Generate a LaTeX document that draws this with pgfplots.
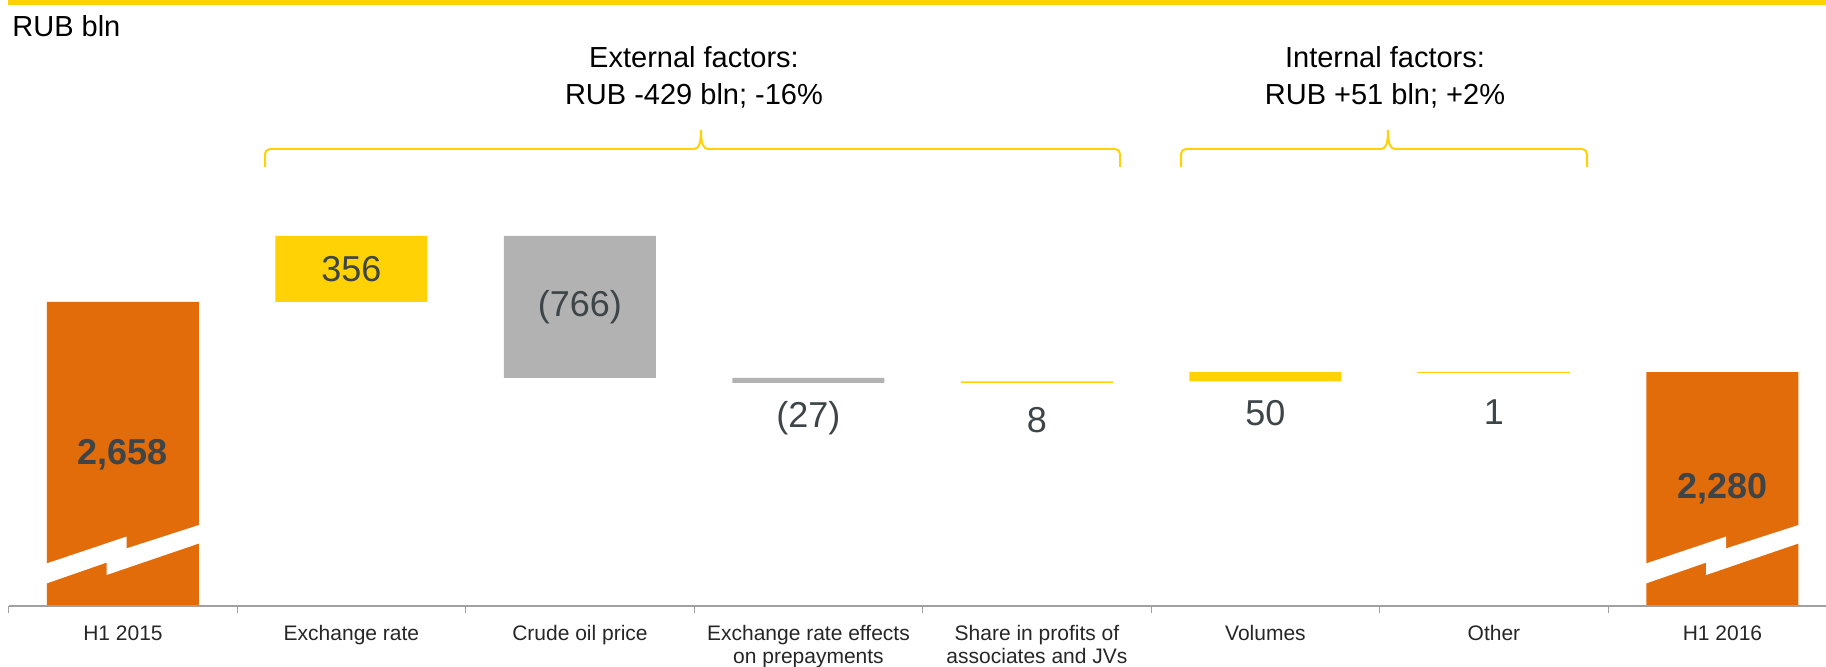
\documentclass[border=0pt]{standalone}
\usepackage{fontspec}
\setmainfont{Liberation Sans}
\usepackage{pgfplots}
\usepackage{pgfplotstable}
\pgfplotsset{compat=1.18}
\definecolor{orng}{RGB}{227,108,10}
\definecolor{ylw}{RGB}{254,210,5}
\definecolor{gry}{RGB}{178,178,178}
\definecolor{axgry}{RGB}{160,160,160}
\definecolor{txt}{RGB}{61,69,73}

\pgfplotstableread{
x base inc dec tot
0 0 0 0 2658
1 2658 356 0 0
2 2248 0 766 0
3 2221 0 27 0
4 2221 8 0 0
5 2229 50 0 0
6 2279 1 0 0
7 0 0 0 2280
}\wf

\newcommand{\bolt}[1]{%
  \fill[white] ([shift={(-39pt,11.0pt)}]axis cs:#1,1018) -- ([shift={(-8.2pt,21.7pt)}]axis cs:#1,1018)
    -- ([shift={(-8.2pt,15.5pt)}]axis cs:#1,1018) -- ([shift={(39pt,31.6pt)}]axis cs:#1,1018)
    -- ([shift={(39pt,40.8pt)}]axis cs:#1,1018) -- ([shift={(1.8pt,28.8pt)}]axis cs:#1,1018)
    -- ([shift={(1.8pt,34.7pt)}]axis cs:#1,1018) -- ([shift={(-39pt,21.0pt)}]axis cs:#1,1018) -- cycle;}

\begin{document}
\begin{tikzpicture}
\path[use as bounding box] (0,0) rectangle (913pt,333.5pt);
\fill[ylw] (4pt,331pt) rectangle (913pt,334pt);
\node[anchor=west, inner sep=0pt, font=\fontsize{14.5}{17}\selectfont] at (6pt,320.5pt) {RUB bln};

\node[align=center, font=\fontsize{14.5}{18.5}\selectfont] at (347pt,295pt) {External factors:\\RUB -429 bln; -16\%};
\node[align=center, font=\fontsize{14.5}{18.5}\selectfont] at (692.5pt,295pt) {Internal factors:\\RUB +51 bln; +2\%};

\draw[ylw, line width=1pt] (132.5pt,250pt) -- (132.5pt,256.5pt) arc[start angle=180, end angle=90, radius=2.5pt]
  -- (347pt,259pt) .. controls (349.5pt,259pt) and (350.5pt,262pt) .. (350.5pt,268.5pt)
  .. controls (350.5pt,262pt) and (351.5pt,259pt) .. (354pt,259pt)
  -- (557.5pt,259pt) arc[start angle=90, end angle=0, radius=2.5pt] -- (560pt,250pt);
\draw[ylw, line width=1pt] (590.5pt,250pt) -- (590.5pt,256.5pt) arc[start angle=180, end angle=90, radius=2.5pt]
  -- (690.5pt,259pt) .. controls (693pt,259pt) and (694pt,262pt) .. (694pt,268.5pt)
  .. controls (694pt,262pt) and (695pt,259pt) .. (697.5pt,259pt)
  -- (791pt,259pt) arc[start angle=90, end angle=0, radius=2.5pt] -- (793.5pt,250pt);

\begin{axis}[
  at={(4.35pt,30.5pt)}, anchor=south west,
  x=114.25pt, y=0.0927pt,
  xmin=-0.5, xmax=7.5, ymin=1018, ymax=4286,
  ybar stacked, bar width=76pt,
  axis x line=bottom, axis y line=none,
  x axis line style={-, draw=axgry, line width=1pt},
  xtick={0,...,7},
  xticklabels={H1 2015, Exchange rate, Crude oil price, {Exchange rate effects\\on prepayments}, {Share in profits of\\associates and JVs}, Volumes, Other, H1 2016},
  major tick length=0pt,
  minor xtick={-0.5,0.5,...,7.5}, minor tick length=3.5pt,
  xtick align=outside,
  tick style={draw=axgry, line width=0.6pt},
  xticklabel style={font=\fontsize{10.5}{11.3}\selectfont, align=center, yshift=-6.2pt, text=black!85},
  axis on top,
]
\addplot[draw=none, fill=none] table[x=x,y=base]{\wf};
\addplot[draw=none, fill=ylw] table[x=x,y=inc]{\wf};
\addplot[draw=none, fill=gry] table[x=x,y=dec]{\wf};
\addplot[draw=none, fill=orng] table[x=x,y=tot]{\wf};
\end{axis}

\begin{axis}[
  at={(4.35pt,30.5pt)}, anchor=south west,
  x=114.25pt, y=0.0927pt,
  xmin=-0.5, xmax=7.5, ymin=1018, ymax=4286,
  ybar stacked, bar width=76pt,
  hide axis,
]
\addplot[draw=none, fill=none] coordinates {(6,2279)};
\addplot[draw=ylw, line width=0.5pt, fill=ylw] coordinates {(6,1)};
\bolt{0}
\bolt{7}
\node[text=txt, font=\fontsize{18}{20}\selectfont] at (axis cs:1,2836) {356};
\node[text=txt, font=\fontsize{18}{20}\selectfont] at (axis cs:2,2631) {(766)};
\node[text=txt, font=\fontsize{18}{20}\selectfont] at (axis cs:3,2032) {(27)};
\node[text=txt, font=\fontsize{18}{20}\selectfont] at (axis cs:4,2021) {8};
\node[text=txt, font=\fontsize{18}{20}\selectfont] at (axis cs:5,2059) {50};
\node[text=txt, font=\fontsize{18}{20}\selectfont] at (axis cs:6,2064) {1};
\node[text=txt, font=\fontsize{18}{20}\selectfont\bfseries] at (axis cs:0,1832) {2,658};
\node[text=txt, font=\fontsize{18}{20}\selectfont\bfseries] at (axis cs:7,1649) {2,280};
\end{axis}
\end{tikzpicture}
\end{document}
